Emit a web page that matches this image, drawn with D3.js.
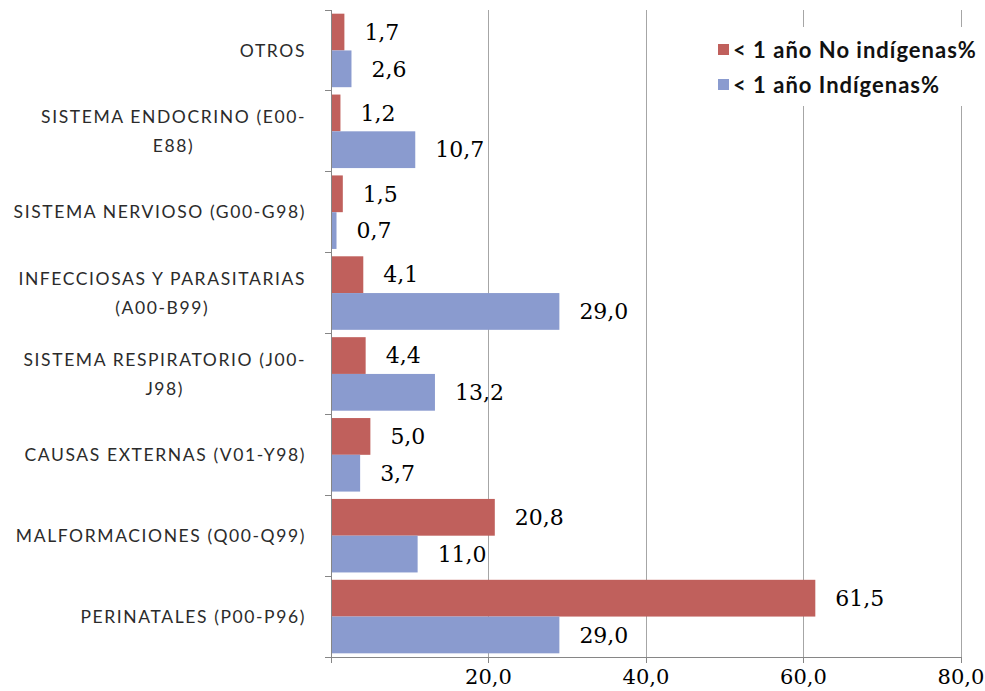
<!DOCTYPE html>
<html>
<head>
<meta charset="utf-8">
<script src="https://cdn.jsdelivr.net/npm/d3@7"></script>
<style>
  html, body { margin: 0; padding: 0; background: #fff; }
  svg { display: block; }
</style>
</head>
<body>
<svg id="chart" width="985" height="691"></svg>
<script>
// Causes of death among children under one year, in percent
const categories = [
  "OTROS",
  "SISTEMA ENDOCRINO (E00-E88)",
  "SISTEMA NERVIOSO (G00-G98)",
  "INFECCIOSAS Y PARASITARIAS (A00-B99)",
  "SISTEMA RESPIRATORIO (J00-J98)",
  "CAUSAS EXTERNAS (V01-Y98)",
  "MALFORMACIONES (Q00-Q99)",
  "PERINATALES (P00-P96)"
];
// How each category name is broken onto lines
const categoryLines = [
  ["OTROS"],
  ["SISTEMA ENDOCRINO (E00-", "E88)"],
  ["SISTEMA NERVIOSO (G00-G98)"],
  ["INFECCIOSAS Y PARASITARIAS", "(A00-B99)"],
  ["SISTEMA RESPIRATORIO (J00-", "J98)"],
  ["CAUSAS EXTERNAS (V01-Y98)"],
  ["MALFORMACIONES (Q00-Q99)"],
  ["PERINATALES (P00-P96)"]
];
const seriesNames = ["< 1 año No indígenas%", "< 1 año Indígenas%"];
const noIndigenas = [1.7, 1.2, 1.5, 4.1, 4.4, 5.0, 20.8, 61.5];
const indigenas   = [2.6, 10.7, 0.7, 29.0, 13.2, 3.7, 11.0, 29.0];
const xTicks = [0, 20, 40, 60, 80];
const xTickLabels = ["", "20,0", "40,0", "60,0", "80,0"];
const colors = ["#C0605C", "#8A9BCF"];

const svg = d3.select("#chart");
const plotLeft = 331, plotRight = 961, plotTop = 10, plotBottom = 657;

const x = d3.scaleLinear().domain([0, 80]).range([plotLeft, plotRight]);
const y = d3.scaleBand().domain(categories).range([plotTop, plotBottom]).paddingInner(0).paddingOuter(0);
const ySeries = d3.scaleBand().domain([0, 1]).range([0, y.bandwidth()]).paddingInner(0).paddingOuter(0.1);

const fmt = v => d3.format(".1f")(v).replace(".", ",");
const numberFont = "'DejaVu Serif', serif";

// vertical gridlines
svg.append("g")
  .selectAll("line")
  .data(xTicks.filter(t => t > 0))
  .join("line")
  .attr("x1", d => x(d)).attr("x2", d => x(d))
  .attr("y1", plotTop).attr("y2", plotBottom)
  .attr("stroke", "#A6A6A6").attr("stroke-width", 1)
  .attr("shape-rendering", "crispEdges");

// bars
const rows = categories.map((c, i) => ({ c, vals: [noIndigenas[i], indigenas[i]] }));
const groups = svg.append("g").selectAll("g")
  .data(rows).join("g")
  .attr("transform", d => `translate(0,${y(d.c)})`);

groups.selectAll("rect")
  .data(d => d.vals.map((v, s) => ({ v, s })))
  .join("rect")
  .attr("x", x(0))
  .attr("y", d => ySeries(d.s))
  .attr("width", d => x(d.v) - x(0))
  .attr("height", ySeries.bandwidth())
  .attr("fill", d => colors[d.s]);

// value labels
groups.selectAll("text")
  .data(d => d.vals.map((v, s) => ({ v, s })))
  .join("text")
  .attr("x", d => x(d.v) + 20)
  .attr("y", d => ySeries(d.s) + ySeries.bandwidth() / 2)
  .attr("dy", "0.35em")
  .attr("font-family", numberFont)
  .attr("font-size", 22)
  .attr("fill", "#000")
  .text(d => fmt(d.v));

// left (category) axis
const yAxis = svg.append("g");
yAxis.append("line")
  .attr("x1", plotLeft).attr("x2", plotLeft).attr("y1", plotTop).attr("y2", plotBottom)
  .attr("stroke", "#868686").attr("shape-rendering", "crispEdges");
const bounds = categories.map(c => y(c)).concat([plotBottom]);
yAxis.selectAll("line.tick").data(bounds).join("line")
  .attr("class", "tick")
  .attr("x1", plotLeft - 6).attr("x2", plotLeft).attr("y1", d => d).attr("y2", d => d)
  .attr("stroke", "#868686").attr("shape-rendering", "crispEdges");

// category labels: wrapped lines centred on the widest line, block right-aligned
const labelRight = 306, lineGap = 29;
categoryLines.forEach((lines, i) => {
  const g = svg.append("g");
  const texts = lines.map(l => g.append("text")
    .attr("font-family", "Lato, sans-serif")
    .attr("font-size", 17.5)
    .attr("letter-spacing", 1.6)
    .attr("fill", "#2b2b2b")
    .attr("text-anchor", "middle")
    .attr("dy", "0.35em")
    .text(l));
  const widths = texts.map(t => t.node().getComputedTextLength());
  const maxW = d3.max(widths);
  const cx = labelRight - maxW / 2;
  const cy = y(categories[i]) + y.bandwidth() / 2;
  texts.forEach((t, k) => {
    t.attr("x", cx).attr("y", cy + (k - (lines.length - 1) / 2) * lineGap);
  });
});

// bottom (value) axis
const xAxis = svg.append("g");
xAxis.append("line")
  .attr("x1", plotLeft - 6).attr("x2", plotRight).attr("y1", plotBottom).attr("y2", plotBottom)
  .attr("stroke", "#868686").attr("shape-rendering", "crispEdges");
xAxis.selectAll("line.tick").data(xTicks).join("line")
  .attr("class", "tick")
  .attr("x1", d => x(d)).attr("x2", d => x(d)).attr("y1", plotBottom).attr("y2", plotBottom + 6)
  .attr("stroke", "#868686").attr("shape-rendering", "crispEdges");
xAxis.selectAll("text").data(xTicks).join("text")
  .attr("x", d => x(d))
  .attr("y", 677)
  .attr("dy", "0.35em")
  .attr("text-anchor", "middle")
  .attr("font-family", numberFont)
  .attr("font-size", 21)
  .attr("fill", "#000")
  .text((d, i) => xTickLabels[i]);

// legend
const legend = svg.append("g");
legend.append("rect")
  .attr("x", 705).attr("y", 27).attr("width", 280).attr("height", 79)
  .attr("fill", "#fff");
seriesNames.forEach((name, i) => {
  const ly = 50 + i * 35;
  legend.append("rect")
    .attr("x", 718).attr("y", ly - 6).attr("width", 11).attr("height", 11)
    .attr("fill", colors[i]);
  legend.append("text")
    .attr("x", 733).attr("y", ly)
    .attr("dy", "0.35em")
    .attr("font-family", "Lato, sans-serif")
    .attr("font-weight", "bold")
    .attr("font-size", 22)
    .attr("letter-spacing", 1)
    .attr("fill", "#111")
    .text(name);
});
</script>
</body>
</html>
